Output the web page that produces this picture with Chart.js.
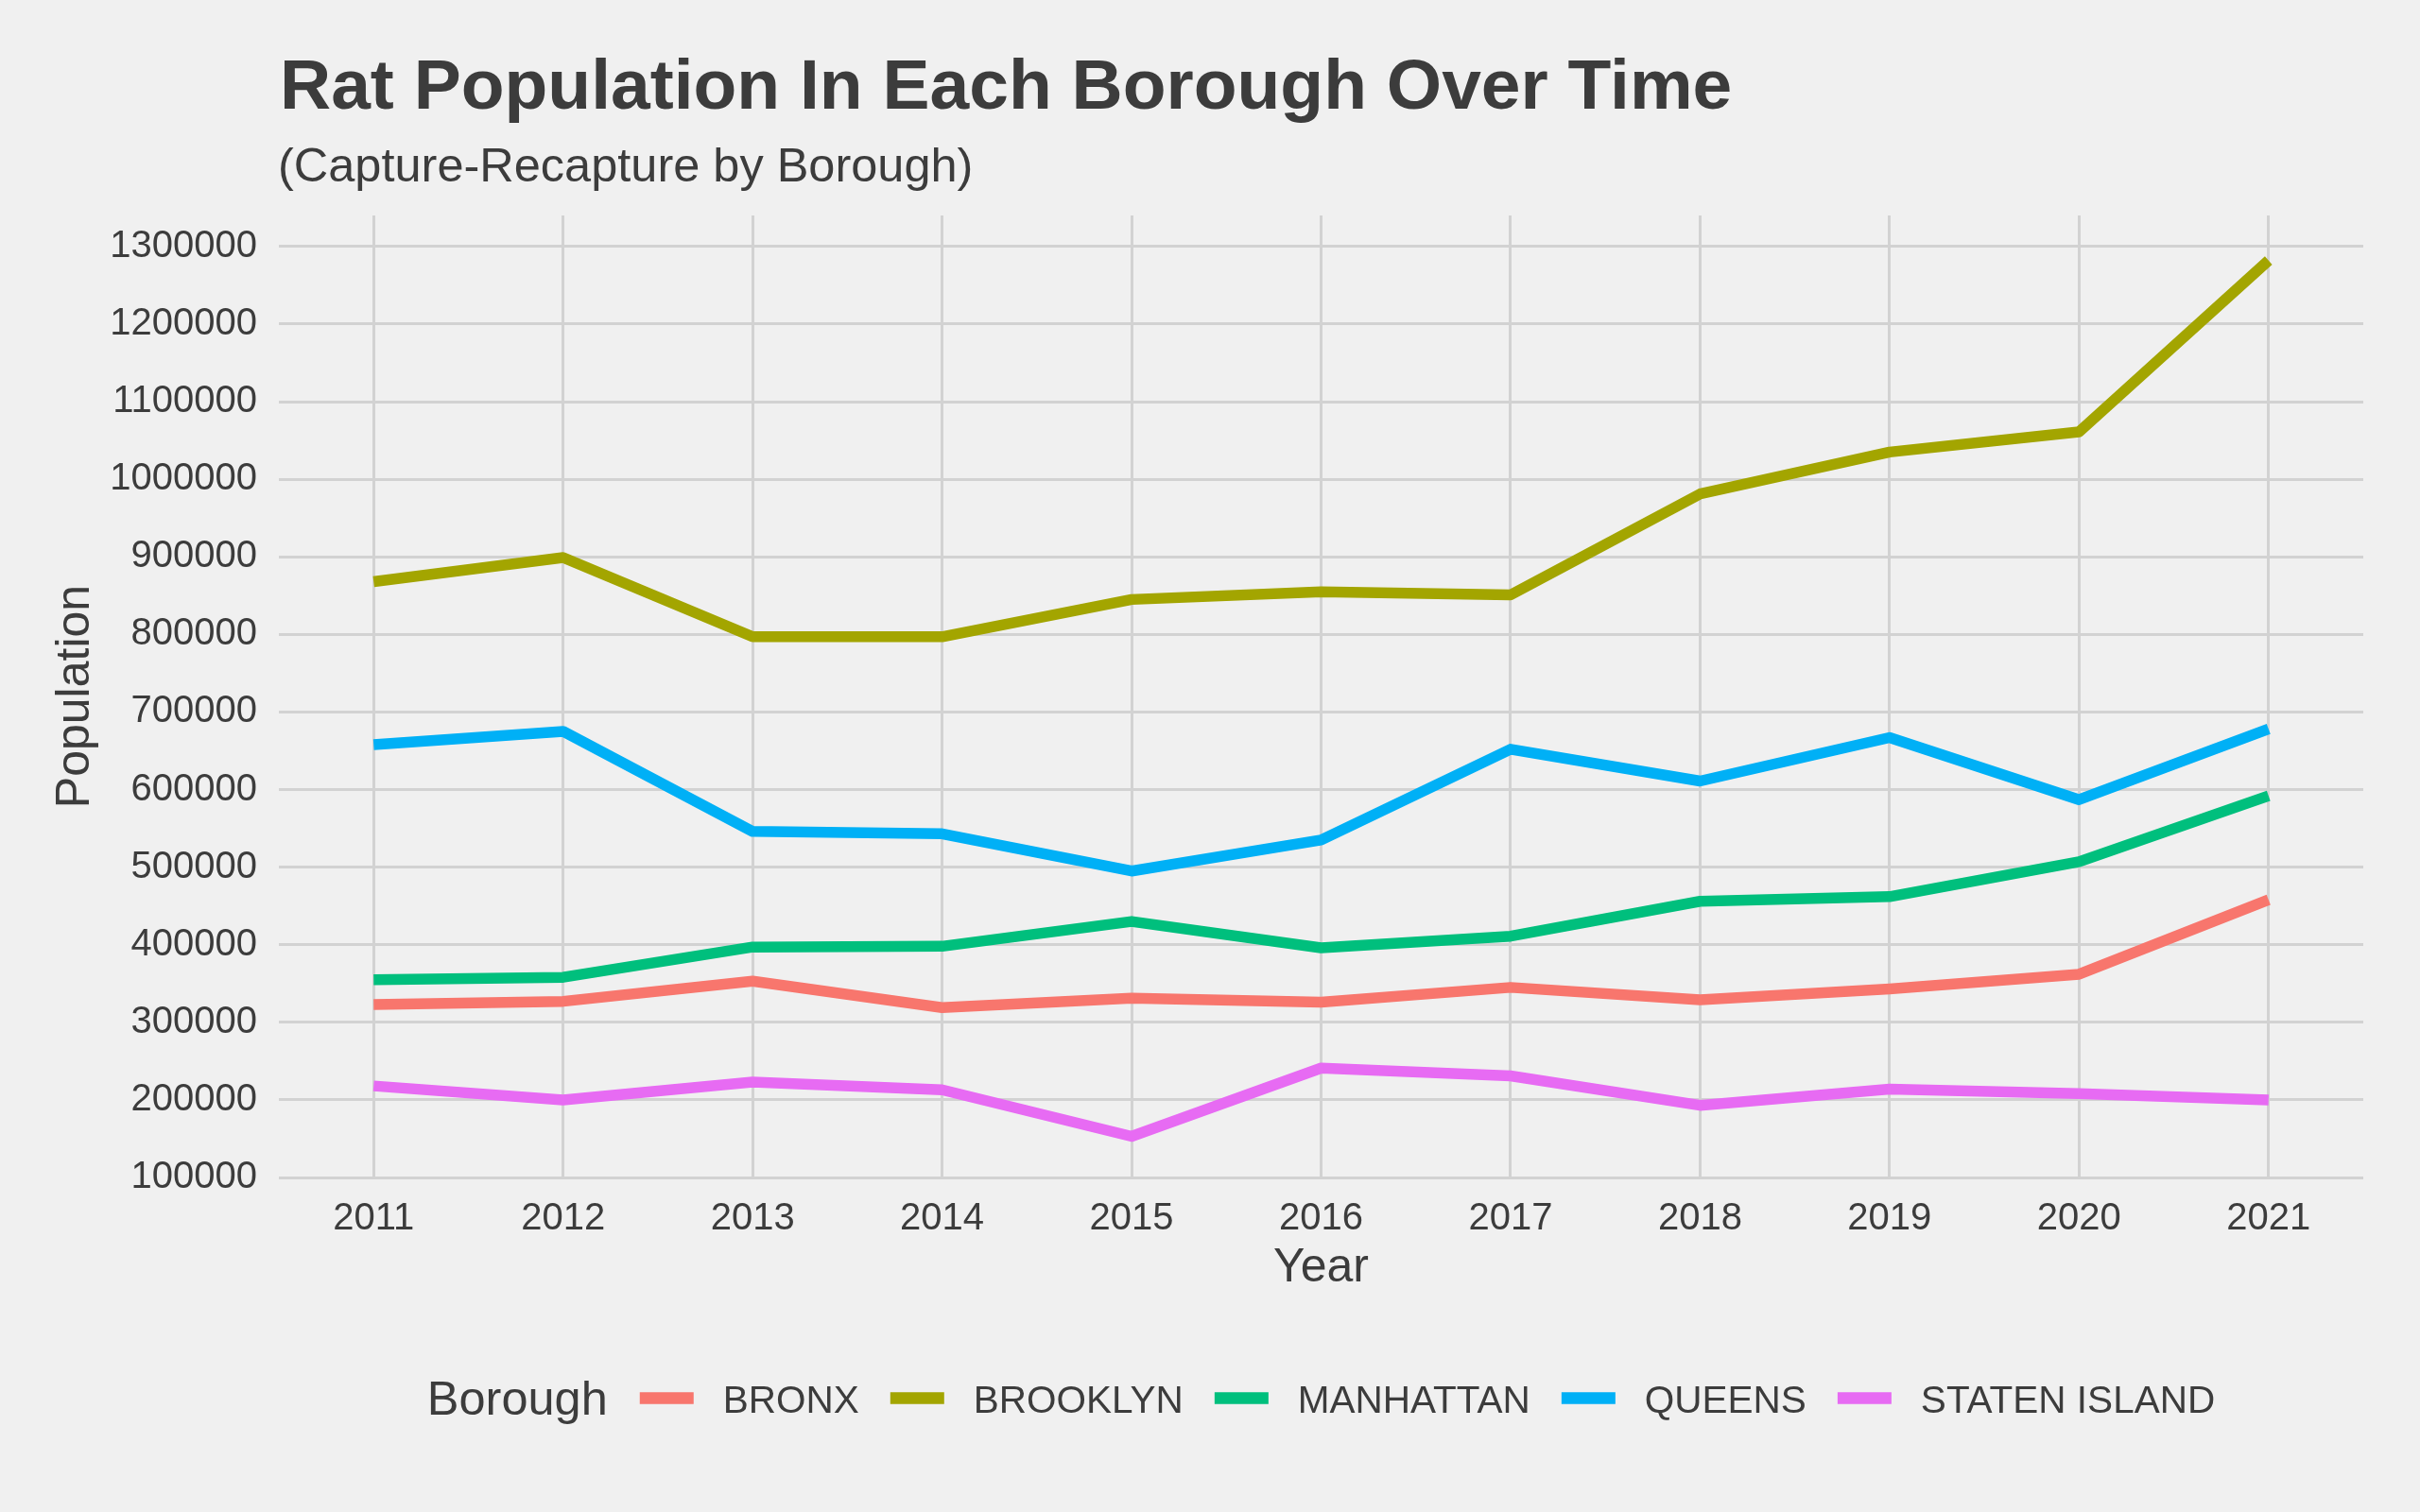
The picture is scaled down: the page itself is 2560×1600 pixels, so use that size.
<!DOCTYPE html>
<html>
<head>
<meta charset="utf-8">
<script src="https://cdn.jsdelivr.net/npm/chart.js@4/dist/chart.umd.min.js"></script>
<style>
  html, body { margin: 0; padding: 0; background: #F0F0F0; }
  #wrap { width: 2560px; height: 1600px; }
  canvas { display: block; background: #F0F0F0; }
</style>
</head>
<body>
<div id="wrap"><canvas id="c" width="2560" height="1600"></canvas></div>
<script>
// ---- Data ----
const years = [2011, 2012, 2013, 2014, 2015, 2016, 2017, 2018, 2019, 2020, 2021];
const boroughs = ["BRONX", "BROOKLYN", "MANHATTAN", "QUEENS", "STATEN ISLAND"];
const bronx     = [323000, 327000, 353000, 319000, 331000, 326000, 345000, 329000, 343000, 362000, 458000];
const brooklyn  = [868000, 899000, 797000, 797000, 845000, 855000, 851000, 981000, 1035000, 1061000, 1282000];
const manhattan = [355000, 358000, 397000, 398000, 430000, 396000, 411000, 456000, 462000, 507000, 592000];
const queens    = [658000, 675000, 546000, 543000, 495000, 535000, 652000, 611000, 667000, 587000, 678000];
const staten    = [218000, 200000, 223000, 213000, 153000, 241000, 231000, 193000, 214000, 208000, 200000];
const yTicks = [100000, 200000, 300000, 400000, 500000, 600000, 700000, 800000, 900000, 1000000, 1100000, 1200000, 1300000];
const colors = ["#F8766D", "#A3A500", "#00BF7D", "#00B0F6", "#E76BF3"];

const titleText = "Rat Population In Each Borough Over Time";
const subtitleText = "(Capture-Recapture by Borough)";
const xTitle = "Year";
const yTitle = "Population";
const legendTitle = "Borough";

const FONT = '"Liberation Sans", Arial, Helvetica, sans-serif';
const TEXT = "#3C3C3C";
const GRID = "#D2D2D2";

const seriesValues = [bronx, brooklyn, manhattan, queens, staten];
const datasets = boroughs.map((name, i) => ({
  label: name,
  data: years.map((yr, j) => ({ x: yr, y: seriesValues[i][j] })),
  borderColor: colors[i],
  backgroundColor: colors[i],
  borderWidth: 11.5,
  borderJoinStyle: "round",
  borderCapStyle: "butt",
  pointRadius: 0,
  pointHoverRadius: 0,
  tension: 0,
  fill: false
}));

const decorPlugin = {
  id: "decor",
  afterDraw(chart) {
    const ctx = chart.ctx;
    const area = chart.chartArea;
    ctx.save();
    ctx.fillStyle = TEXT;
    ctx.textBaseline = "alphabetic";
    ctx.textAlign = "left";
    // Title
    ctx.font = "bold 75px " + FONT;
    ctx.fillText(titleText, area.left + 1, 115);
    // Subtitle
    ctx.font = "50.5px " + FONT;
    ctx.fillText(subtitleText, area.left - 1, 192);

    // Legend (bottom, horizontal, title on the left)
    const swW = 57, swH = 12.5, gapTitle = 34, gapSwText = 31, gapItem = 33;
    ctx.font = "50.5px " + FONT;
    const ltW = ctx.measureText(legendTitle).width;
    ctx.font = "40.5px " + FONT;
    const widths = boroughs.map(b => ctx.measureText(b).width);
    let total = ltW + gapTitle;
    widths.forEach((w, i) => { total += swW + gapSwText + w + (i < widths.length - 1 ? gapItem : 0); });
    let x = (area.left + area.right) / 2 - total / 2;
    const cy = 1479.5;
    ctx.font = "50.5px " + FONT;
    ctx.fillStyle = TEXT;
    ctx.fillText(legendTitle, x, 1497);
    x += ltW + gapTitle;
    chart.data.datasets.forEach((ds, i) => {
      ctx.fillStyle = ds.borderColor;
      ctx.fillRect(x, cy - swH / 2, swW, swH);
      x += swW + gapSwText;
      ctx.font = "40.5px " + FONT;
      ctx.fillStyle = TEXT;
      ctx.fillText(ds.label, x, 1495);
      x += widths[i] + gapItem;
    });
    ctx.restore();
  }
};

new Chart(document.getElementById("c"), {
  type: "line",
  data: { datasets },
  options: {
    responsive: false,
    animation: false,
    devicePixelRatio: 1,
    layout: { padding: { top: 228, right: 60, bottom: 228, left: 0 } },
    plugins: {
      legend: { display: false },
      title: { display: false },
      tooltip: { enabled: false }
    },
    scales: {
      x: {
        type: "linear",
        min: 2010.5,
        max: 2021.5,
        afterBuildTicks: (scale) => { scale.ticks = years.map(v => ({ value: v })); },
        afterFit: (scale) => { scale.height = 126; },
        grid: { color: GRID, lineWidth: 3, drawTicks: false },
        border: { display: false },
        ticks: {
          padding: 20,
          color: TEXT,
          font: { family: FONT, size: 40 },
          maxRotation: 0,
          autoSkip: false,
          callback: (v) => String(v)
        },
        title: {
          display: true,
          text: xTitle,
          color: TEXT,
          font: { family: FONT, size: 50 },
          padding: { top: 1, bottom: 0 }
        }
      },
      y: {
        type: "linear",
        min: 100000,
        max: 1340000,
        afterBuildTicks: (scale) => { scale.ticks = yTicks.map(v => ({ value: v })); },
        afterFit: (scale) => { scale.width = 295; },
        grid: { color: GRID, lineWidth: 3, drawTicks: false },
        border: { display: false },
        ticks: {
          padding: 23,
          color: TEXT,
          font: { family: FONT, size: 40 },
          autoSkip: false,
          callback: (v) => String(v)
        },
        title: {
          display: true,
          text: yTitle,
          color: TEXT,
          font: { family: FONT, size: 50 },
          padding: { top: 50, bottom: 0 }
        }
      }
    }
  },
  plugins: [decorPlugin]
});
</script>
</body>
</html>
